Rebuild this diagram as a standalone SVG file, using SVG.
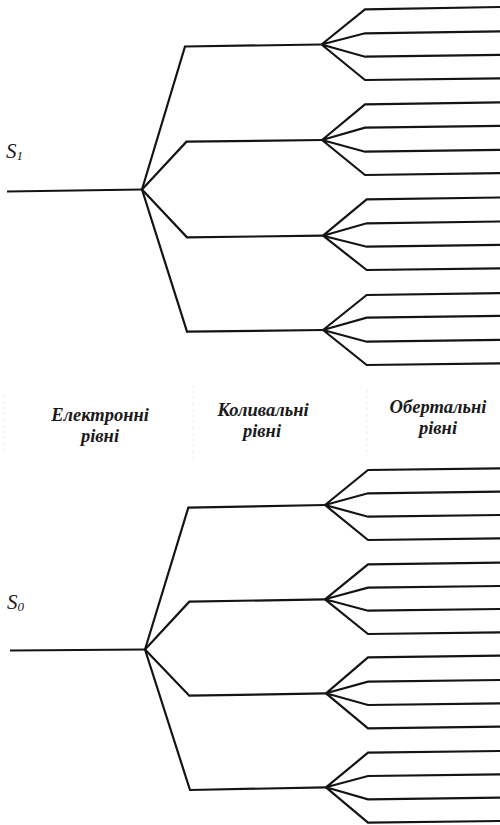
<svg xmlns="http://www.w3.org/2000/svg" width="500" height="825" viewBox="0 0 500 825">
<style>
.ln{fill:none;stroke:#141414;stroke-width:2.2;stroke-linejoin:miter;stroke-linecap:butt}
.lab{font-family:'Liberation Serif',serif;font-style:italic;font-weight:bold;font-size:18.5px;fill:#1a1a1a;text-anchor:middle}
.st{font-family:'Liberation Serif',serif;font-style:italic;font-size:21px;fill:#1a1a1a}
.sub{font-size:13px}
.sep{stroke:#e8e8e8;stroke-width:1;stroke-dasharray:2 4}
</style>
<rect width="500" height="825" fill="#ffffff"/>
<g id="separators">
<line class="sep" x1="4" y1="395" x2="4" y2="455"/>
<line class="sep" x1="193" y1="385" x2="193" y2="460"/>
<line class="sep" x1="367" y1="390" x2="367" y2="455"/>
</g>
<g id="S1">
<text class="st" x="6" y="158">S<tspan class="sub" dy="2">1</tspan></text>
</g>
<g id="S0">
<text class="st" x="7" y="609">S<tspan class="sub" dy="2">0</tspan></text>
</g>
<g id="label-electronic">
<text class="lab" x="100" y="421">Електронні</text>
<text class="lab" x="100" y="442">рівні</text>
</g>
<g id="label-vibrational">
<text class="lab" x="263" y="416">Коливальні</text>
<text class="lab" x="262" y="437">рівні</text>
</g>
<g id="label-rotational">
<text class="lab" x="438" y="413">Обертальні</text>
<text class="lab" x="438" y="434">рівні</text>
</g>
<g id="connectors">
<!-- S1 tree -->
<path class="ln" d="M7,191.5 L142,189.5"/>
<path class="ln" d="M142,189.5 L185,46.5 L321.5,44.5"/>
<path class="ln" d="M142,189.5 L186.5,141.7 L322,140"/>
<path class="ln" d="M142,189.5 L187,237.3 L323,235.7"/>
<path class="ln" d="M142,189.5 L187,331.7 L323,330"/>
<path class="ln" d="M321.5,44.5 L365,9.3 L500,7 M321.5,44.5 L365,33.3 L500,31.3 M321.5,44.5 L365,56.7 L500,54.8 M321.5,44.5 L365,80 L500,78.3"/>
<path class="ln" d="M322,140 L365,104.3 L500,102.3 M322,140 L365,127.7 L500,125.8 M322,140 L365,151.7 L500,149.8 M322,140 L365,175 L500,173.2"/>
<path class="ln" d="M323,235.7 L366.7,199.3 L500,197.5 M323,235.7 L366.7,223.3 L500,221.5 M323,235.7 L366.7,246.7 L500,244.9 M323,235.7 L366.7,270 L500,268.3"/>
<path class="ln" d="M323,330 L366.7,295 L500,293.2 M323,330 L366.7,317.7 L500,315.9 M323,330 L366.7,341.7 L500,339.9 M323,330 L366.7,365 L500,363.3"/>
<!-- S0 tree -->
<path class="ln" d="M10,650.5 L145,649.5"/>
<path class="ln" d="M145,649.5 L188.3,507.7 L325,505"/>
<path class="ln" d="M145,649.5 L189.3,601.7 L325,599.3"/>
<path class="ln" d="M145,649.5 L189.3,695.7 L326,693.3"/>
<path class="ln" d="M145,649.5 L190,790 L326,787.3"/>
<path class="ln" d="M325,505 L368,470 L500,468.3 M325,505 L368,493.3 L500,491.6 M325,505 L368,516.7 L500,515 M325,505 L368,540 L500,538.4"/>
<path class="ln" d="M325,599.3 L368,564.3 L500,562.6 M325,599.3 L368,587.7 L500,586 M325,599.3 L368,610.7 L500,609 M325,599.3 L368,634 L500,632.4"/>
<path class="ln" d="M326,693.3 L368,657.3 L500,655.7 M326,693.3 L368,681.7 L500,680 M326,693.3 L368,705 L500,703.3 M326,693.3 L368,728.3 L500,726.7"/>
<path class="ln" d="M326,787.3 L368,752.7 L500,751 M326,787.3 L368,776 L500,774.3 M326,787.3 L368,799.3 L500,797.6 M326,787.3 L368,822.7 L500,821"/>
</g>
</svg>
